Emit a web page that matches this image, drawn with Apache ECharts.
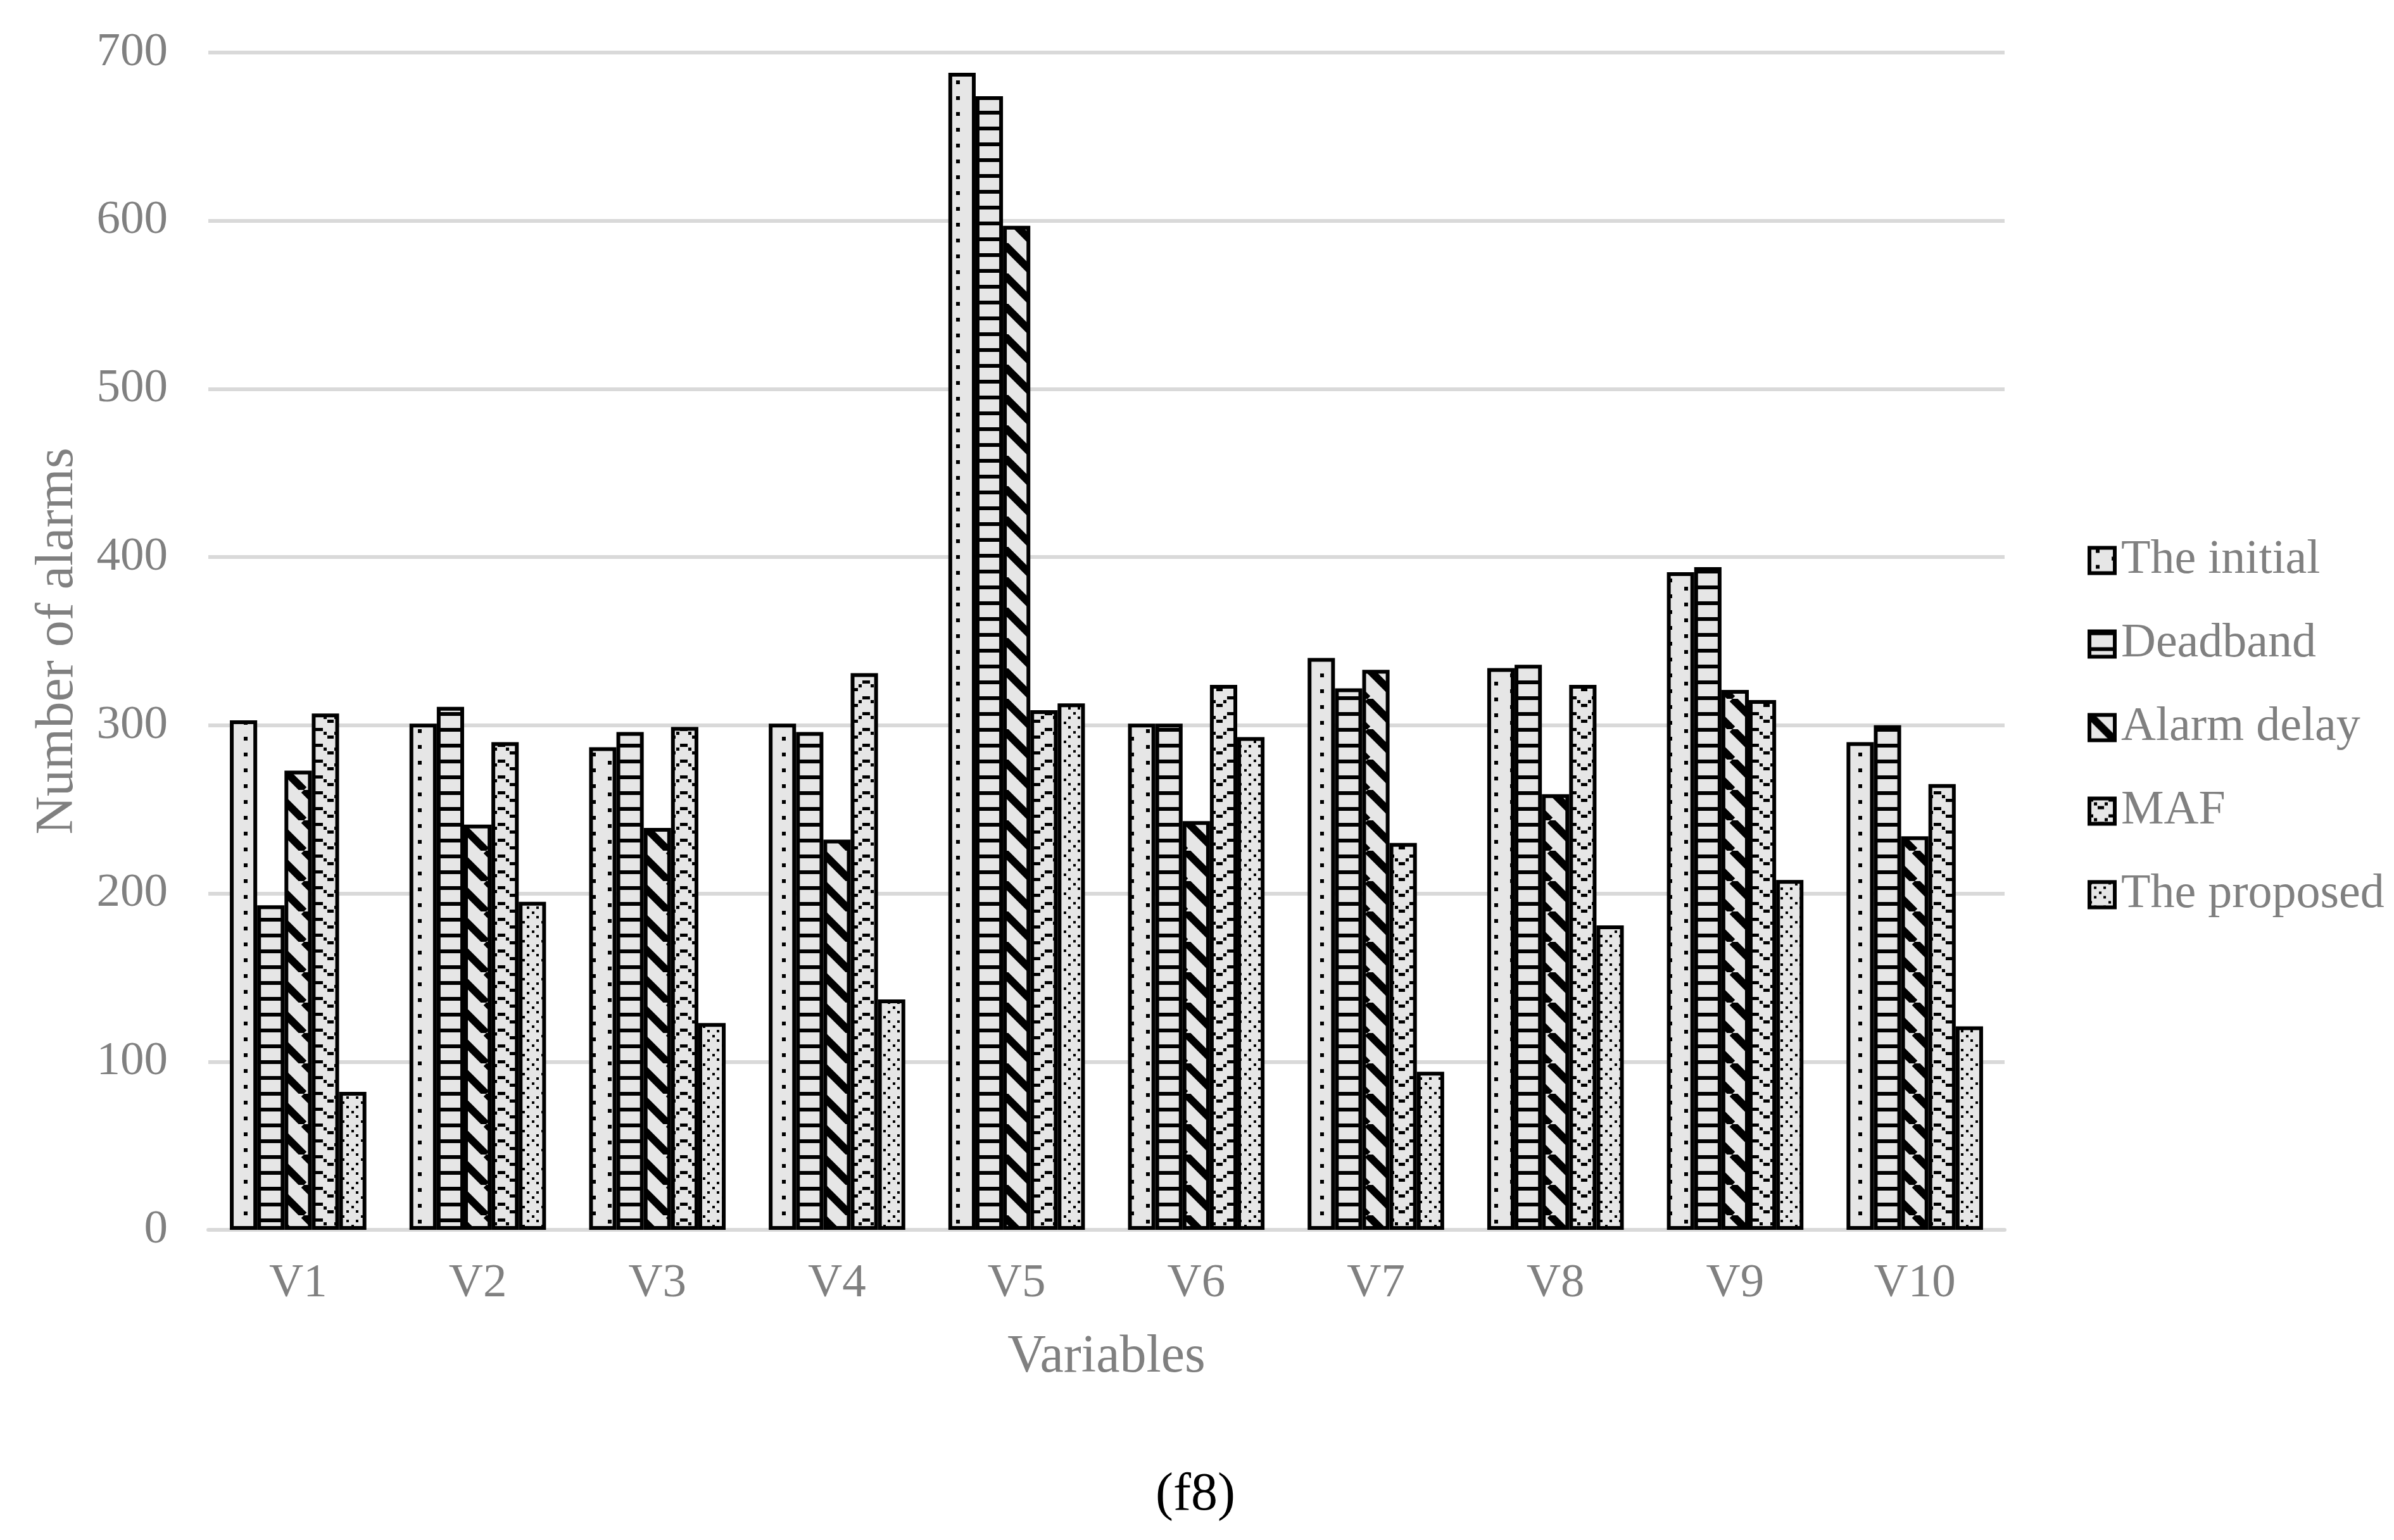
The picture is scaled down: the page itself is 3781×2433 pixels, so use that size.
<!DOCTYPE html>
<html><head><meta charset="utf-8">
<script src="https://cdn.jsdelivr.net/npm/echarts@6/dist/echarts.min.js"></script>
<style>html,body{margin:0;padding:0;background:#fff}#c{width:3781px;height:2433px}</style>
</head><body><div id="c"></div>
<script>
const categories = ['V1','V2','V3','V4','V5','V6','V7','V8','V9','V10'];
const seriesNames = ['The initial','Deadband','Alarm delay','MAF','The proposed'];
const initialVals  = [303,301,287,301,688,301,340,334,391,290];
const deadbandVals = [193,311,296,296,674,301,322,336,394,300];
const alarmDelayVals = [273,241,239,232,597,243,333,259,321,234];
const mafVals      = [307,290,299,331,309,324,230,324,315,265];
const proposedVals = [82,195,123,137,313,293,94,181,208,121];
const yTicks = {min:0, max:700, step:100};
const xTitle = 'Variables', yTitle = 'Number of alarms', caption = '(f8)';

function tile(w,h,draw){
  const c=document.createElement('canvas'); c.width=w; c.height=h;
  const g=c.getContext('2d'); g.fillStyle='#e6e6e6'; g.fillRect(0,0,w,h);
  g.fillStyle='#000'; g.strokeStyle='#000'; draw(g,w,h);
  return {image:c, repeat:'repeat'};
}
const patterns = [
  tile(50,25,g=>{g.fillRect(10,2,6,6);g.fillRect(35,14,6,6);}),
  tile(10,25,g=>{g.fillRect(0,0,10,6);}),
  tile(48,48,g=>{g.lineWidth=12;g.lineCap='butt';
    for(const x0 of [-48,0,48]){g.beginPath();g.moveTo(x0,0);g.lineTo(x0+48,48);g.stroke();}}),
  tile(36,25,g=>{g.fillRect(0,0,6,5);g.fillRect(30,0,6,5);g.fillRect(7,6,5,5);g.fillRect(13,12,10,5);g.fillRect(24,6,5,5);}),
  tile(30,30,g=>{[[0,0],[7,7],[15,15],[22,22],[22,7],[7,22]].forEach(p=>g.fillRect(p[0],p[1],4,4));})
];
const allVals=[initialVals,deadbandVals,alarmDelayVals,mafVals,proposedVals];
const FF='"Liberation Serif","Times New Roman",serif';
const chart=echarts.init(document.getElementById('c'),null,{renderer:'canvas'});
chart.setOption({
  animation:false,
  backgroundColor:'#fff',
  grid:{left:329,right:615,top:83,bottom:490,containLabel:false},
  legend:{orient:'vertical',left:3292,top:842,itemWidth:40,itemHeight:40,itemGap:55,icon:'rect',
    data:seriesNames,
    itemStyle:{borderColor:'#000',borderWidth:6},
    textStyle:{fontSize:76,color:'#808080',fontFamily:FF,lineHeight:77,padding:[0,0,0,5]}},
  xAxis:{type:'category',data:categories,
    axisLine:{show:true,lineStyle:{color:'#d9d9d9',width:6}},axisTick:{show:false},
    axisLabel:{fontSize:75,color:'#808080',fontFamily:FF,margin:48},
    name:xTitle,nameLocation:'middle',nameGap:160,
    nameTextStyle:{fontSize:84,color:'#808080',fontFamily:FF}},
  yAxis:{type:'value',min:yTicks.min,max:yTicks.max,interval:yTicks.step,
    axisLine:{show:false},axisTick:{show:false},
    axisLabel:{fontSize:75,color:'#808080',fontFamily:FF,margin:64},
    splitLine:{lineStyle:{color:'#d9d9d9',width:6}},
    name:yTitle,nameLocation:'middle',nameGap:195,
    nameTextStyle:{fontSize:84,color:'#808080',fontFamily:FF}},
  graphic:[{type:'text',x:1888,y:2363,style:{text:caption,fontSize:84,fontFamily:FF,fill:'#000',align:'center',verticalAlign:'middle'}}],
  series:seriesNames.map((n,i)=>({name:n,type:'bar',data:allVals[i],barGap:'0%',barCategoryGap:'24%',
    itemStyle:{color:patterns[i],borderColor:'#000',borderWidth:6},
    emphasis:{disabled:true}}))
});
</script></body></html>
